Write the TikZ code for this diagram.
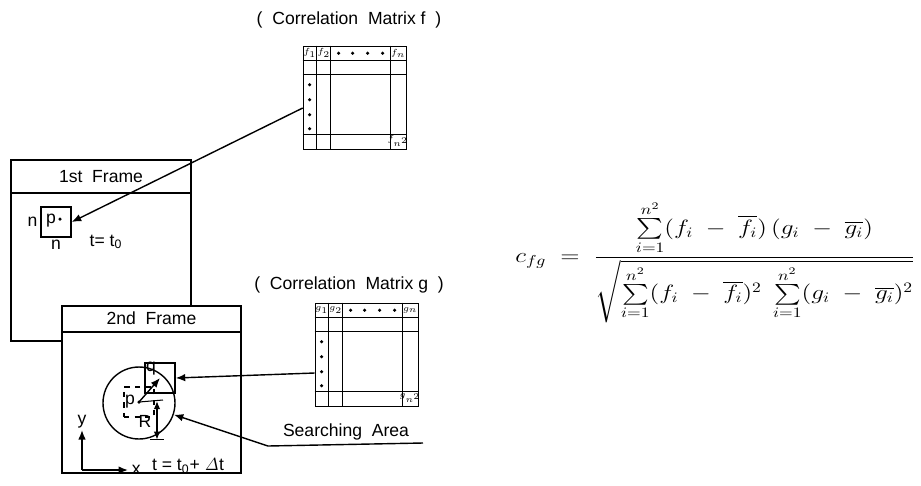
\documentclass[tikz,border=0pt]{standalone}
\usepackage[no-math]{fontspec}
\setmainfont{Liberation Sans}
\usepackage{amsmath}
\usepackage{graphicx}
\usetikzlibrary{arrows.meta, positioning}

\begin{document}
\begin{tikzpicture}[
    x=0.02cm, y=-0.02cm,
    every node/.style={font=\normalsize},
    frame/.style={draw, line width=0.9pt, fill=white, inner sep=0pt},
    frametitle/.style={inner sep=0pt, minimum width=3.4cm},
    matbox/.style={draw, line width=0.9pt, minimum size=2.06cm, inner sep=0pt},
    cell/.style={font=\fontsize{4}{4}\selectfont, inner sep=0pt},
    box/.style={draw, line width=0.8pt, minimum size=0.6cm, inner sep=0pt},
    arrow/.style={line width=0.8pt, -{Latex[length=1.9mm, width=1.5mm]}},
    dimarrow/.style={line width=0.8pt, {Latex[length=1.6mm, width=1.3mm]}-{Latex[length=1.6mm, width=1.3mm]}}
]
\useasboundingbox (0,0) rectangle (921,485);

% correlation matrices
\foreach \m/\pos in {f/{(355,98)}, g/{(367,355)}} {
    \node[matbox] (mat\m) at \pos {};
    \begin{scope}[shift={(mat\m.north west)}, line width=0.8pt]
        \foreach \c in {14,28,88} \draw (\c,0) -- (\c,103);
        \foreach \r in {15,29,89} \draw (0,\r) -- (103,\r);
        \node[cell] (mat\m-a) at (7,7.5) {$\m_1$};
        \node[cell] (mat\m-b) at (21,7.5) {$\m_2$};
        \node[cell] (mat\m-c) at (95.5,7.5) {$\m_n$};
        \node[cell] (mat\m-d) at (95.5,95) {$\m_{n^2}$};
        \foreach \d in {36,50,65,80} \fill (\d,7.5) circle (0.035cm);
        \foreach \d in {39,54,69,83} \fill (7,\d) circle (0.035cm);
    \end{scope}
}
\node (labf) at (349,20) {(\ \ Correlation\ \ Matrix f\ \ )};
\node (labg) at (349,285) {(\ \ Correlation\ \ Matrix g\ \ )};

% 1st frame
\node[frame, minimum width=3.6cm, minimum height=3.62cm] (frame1) at (101,250.5) {};
\node[frametitle, minimum height=0.66cm, below=0pt of frame1.north] (title1) {1st\ \ Frame};
\draw[line width=0.9pt] (title1.south -| frame1.west) -- (title1.south -| frame1.east);
\node[box] (pbox) at (56,222) {};
\node (plab1) at (51,221) {p};
\fill (60,219) circle (0.035cm);
\node[left=0.5pt of pbox, inner sep=1pt] (nleft) {n};
\node[below=0pt of pbox, inner sep=1pt] (nbot) {n};
\node (tlab1) at (106,242) {t= t\textsubscript{0}};

% 2nd frame
\node[frame, minimum width=3.58cm, minimum height=3.34cm] (frame2) at (151.5,389.5) {};
\node[frametitle, minimum height=0.52cm, below=0pt of frame2.north] (title2) {2nd\ \ Frame};
\draw[line width=0.9pt] (title2.south -| frame2.west) -- (title2.south -| frame2.east);
\node[circle, draw, line width=0.8pt, minimum size=1.44cm, inner sep=0pt] (area) at (139,403) {};
\node[box] (qbox) at (160,378) {};
\node[box, dashed, line width=0.6pt] (pbox2) at (139,402) {};
\node (qlab) at (151,369) {q};
\node (plab2) at (130,402) {p};
\coordinate (pcen) at (139,402);
\fill (pcen) circle (0.035cm);
\draw[arrow] (pcen) -- (qbox.center);
\coordinate (rtop) at (157,401);
\coordinate (rbot) at (rtop |- area.south);
\draw[line width=0.6pt] (pcen) -- (163,400);
\draw[dimarrow] (rtop) -- (rbot);
\draw[line width=0.6pt] ([xshift=-0.14cm]rbot) -- ([xshift=0.14cm]rbot);
\node (rlab) at (145,421) {R};

% axes
\coordinate (origin) at (82,470);
\coordinate (ytip) at (82,430);
\coordinate (xtip) at (128,470);
\draw[arrow] (origin) -- (ytip);
\draw[arrow] (origin) -- (xtip);
\node[above=0pt of ytip, inner sep=1pt] (ylab) {y};
\node[right=0pt of xtip, inner sep=2pt] (xlab) {x};
\node (tlab2) at (188,466) {t = t\textsubscript{0}+ $\mathit{\Delta}$t};

% connections
\draw[arrow] ([yshift=-0.2cm]matf.west) -- (pbox.east);
\draw[arrow] ([yshift=-0.36cm]matg.west) -- (qbox.east);
\node (search) at (346,432) {Searching\ \ Area};
\coordinate (sright) at (423,443);
\coordinate (sturn) at (268,446);
\draw[arrow] (sright) -- (sturn) -- (area);

% formula
\node[anchor=west, inner sep=0pt, font=\fontsize{14.5}{17}\selectfont] (cfg) at (515,262)
    {\scalebox{1}[0.82]{$c_{fg} \;=\; \dfrac{\textstyle\sum\limits_{i=1}^{n^2}(f_i\;-\;\overline{f_i})\,(g_i\;-\;\overline{g_i})}
    {\sqrt{\textstyle\sum\limits_{i=1}^{n^2}(f_i\;-\;\overline{f_i})^2\;\sum\limits_{i=1}^{n^2}(g_i\;-\;\overline{g_i})^2}}$}};
\end{tikzpicture}
\end{document}
